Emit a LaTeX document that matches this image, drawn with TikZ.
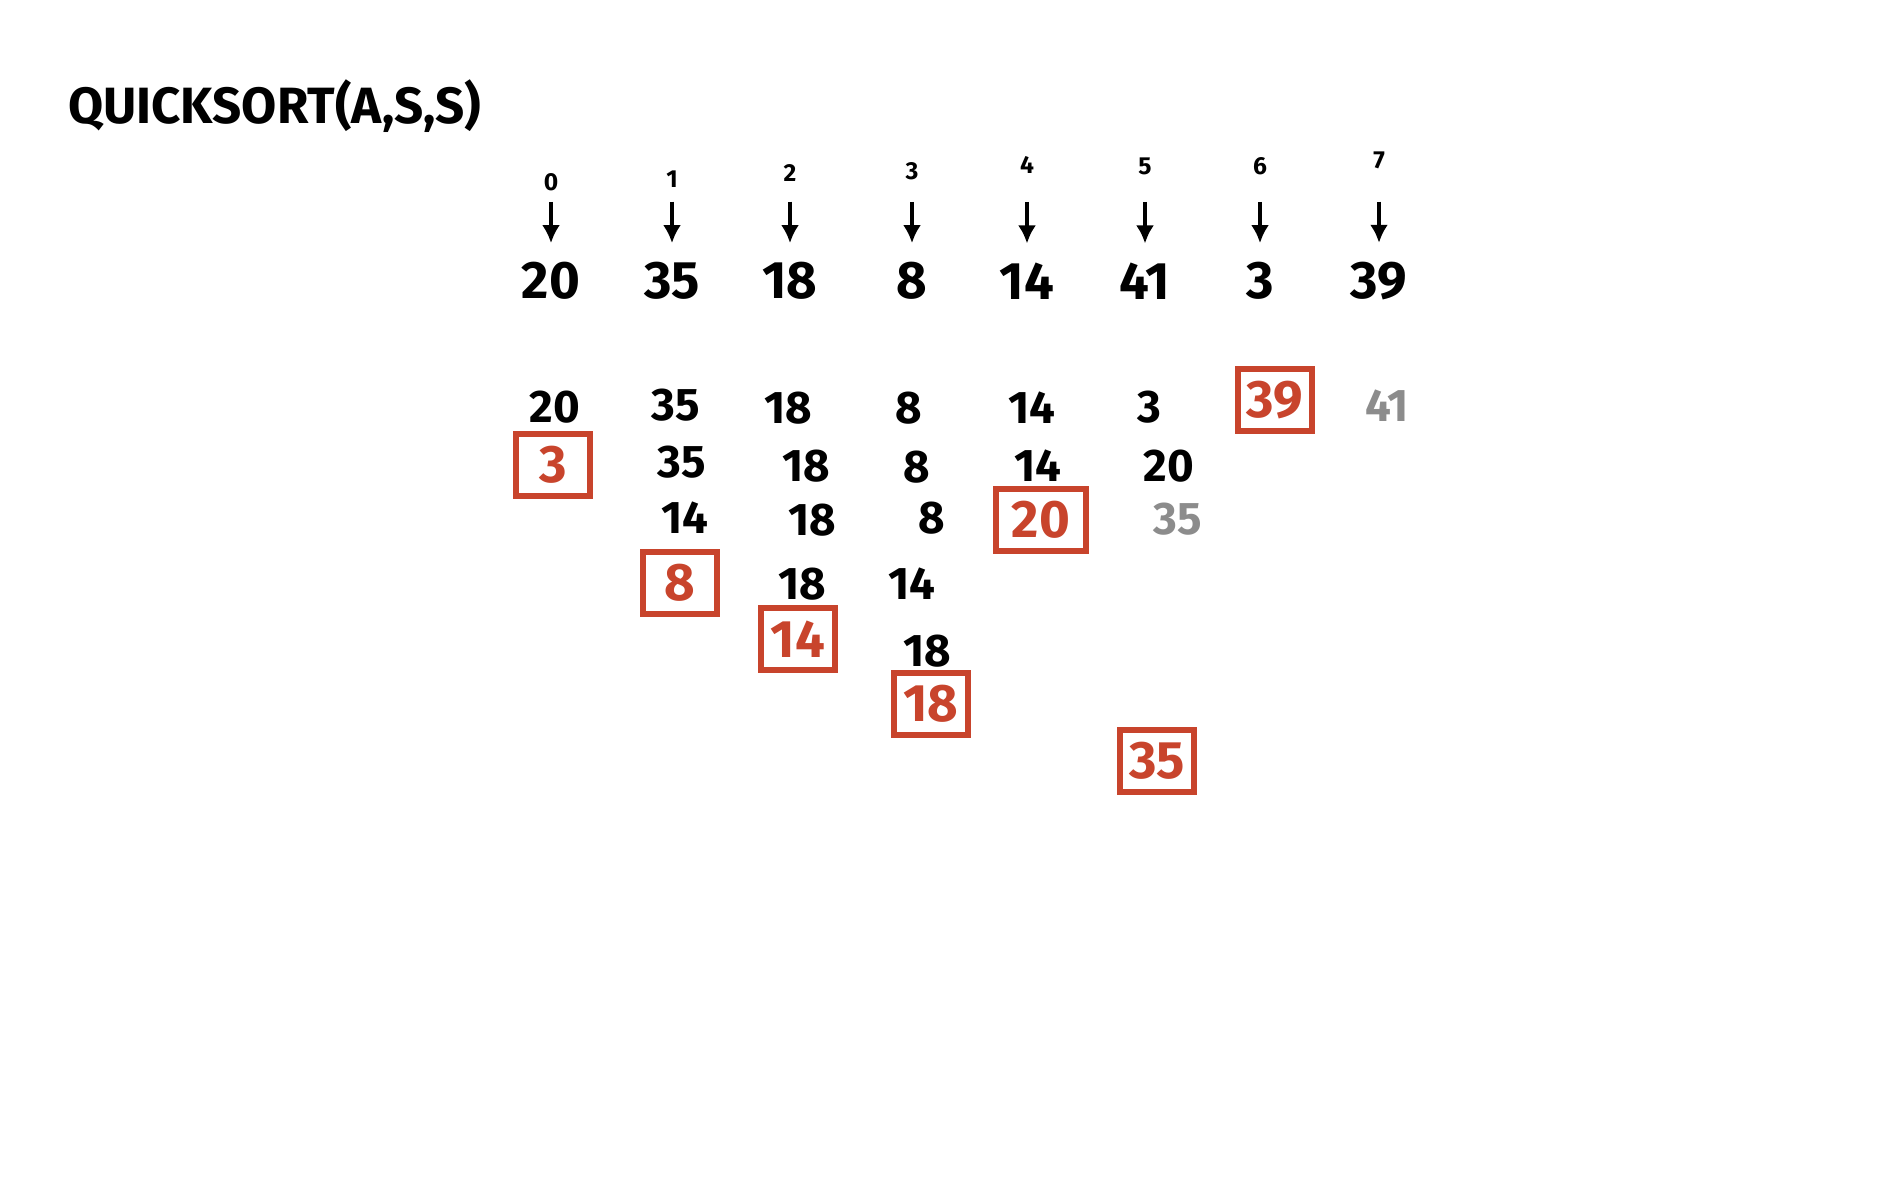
\documentclass[tikz,border=0pt]{standalone}
\usepackage{fontspec}
\setsansfont{Fira Sans}
\usetikzlibrary{arrows.meta}
\definecolor{pivred}{HTML}{C8442C}
\tikzset{
  num/.style={font=\sffamily\bfseries\fontsize{13}{13}\selectfont, inner sep=1pt},
  bignum/.style={font=\sffamily\bfseries\fontsize{15}{15}\selectfont, inner sep=1pt},
  idx/.style={font=\sffamily\bfseries\fontsize{7}{7}\selectfont, inner sep=1pt},
  pivot/.style={bignum, text=pivred, draw=pivred, line width=1.5pt, minimum width=.74cm, minimum height=.62cm},
  faded/.style={num, text=black!45},
}
\begin{document}
\begin{tikzpicture}[x=.01cm,y=-.01cm]
  \useasboundingbox (0,0) rectangle (1900,1200);
  \node[bignum, anchor=west, font=\sffamily\bfseries\fontsize{14.5}{14.5}\selectfont] (title) at (64,106) {QUICKSORT(A,S,S)};
  % indices, arrows and the input array
  \foreach \x/\y/\v [count=\i from 0] in {551/182/20,672/179/35,790/173/18,912/171/8,1027/165/14,1145/166/41,1260/166/3,1379/160/39}{
    \node[idx] (i\i) at (\x,\y) {\i};
    \node[bignum] (v\i) at (\x,281) {\v};
    \pgfmathsetmacro{\gap}{(198-\y-9)*0.01}
    \draw[line width=1.3pt, -{Latex[length=1.8mm,width=1.8mm]}, shorten <=\gap cm, shorten >=.15cm] (i\i) -- (v\i);
  }
  % partition steps
  \node[num] (r2a) at (555,407) {20};
  \node[num] (r2b) at (676,405) {35};
  \node[num] (r2c) at (788,408) {18};
  \node[num] (r2d) at (909,408) {8};
  \node[num] (r2e) at (1032,408) {14};
  \node[num] (r2f) at (1149,407) {3};
  \node[pivot] (p39) at (1275,400) {39};
  \node[faded] (r2h) at (1387,406) {41};
  \node[pivot] (p3) at (553,465) {3};
  \node[num] (r3b) at (682,462) {35};
  \node[num] (r3c) at (806,466) {18};
  \node[num] (r3d) at (917,467) {8};
  \node[num] (r3e) at (1038,466) {14};
  \node[num] (r3f) at (1169,466) {20};
  \node[num] (r4a) at (685,518) {14};
  \node[num] (r4b) at (812,520) {18};
  \node[num] (r4c) at (932,518) {8};
  \node[pivot, minimum width=.9cm] (p20) at (1041,520) {20};
  \node[faded] (r4e) at (1178,519) {35};
  \node[pivot] (p8) at (680,583) {8};
  \node[num] (r5b) at (802,584) {18};
  \node[num] (r5c) at (912,584) {14};
  \node[pivot] (p14) at (798,639) {14};
  \node[num] (r6b) at (927,651) {18};
  \node[pivot] (p18) at (931,704) {18};
  \node[pivot] (p35) at (1157,761) {35};
\end{tikzpicture}
\end{document}
